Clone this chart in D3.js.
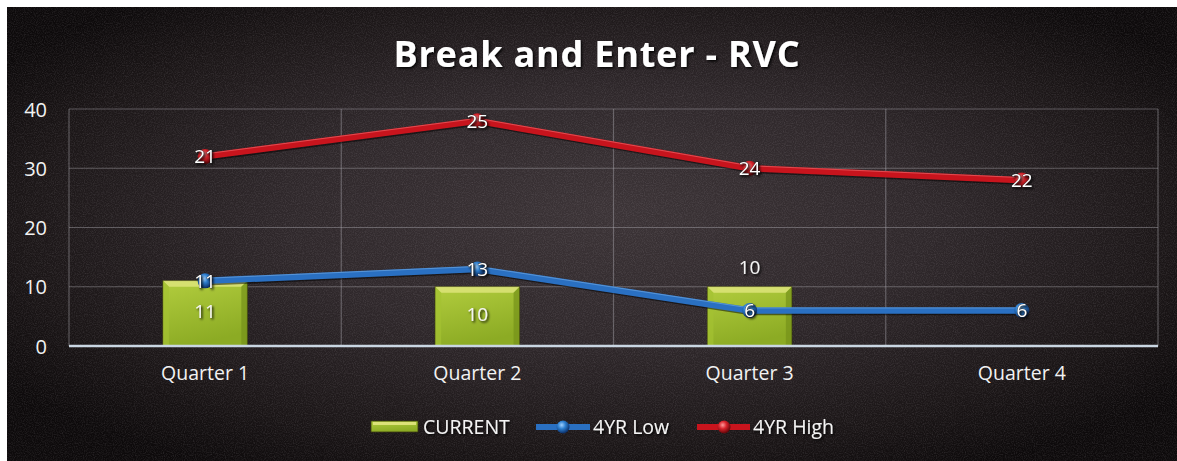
<!DOCTYPE html>
<html><head><meta charset="utf-8">
<script src="https://cdn.jsdelivr.net/npm/d3@7"></script>
<style>html,body{margin:0;padding:0;background:#fff;overflow:hidden;}svg{display:block;}</style>
</head><body>
<svg id="c" width="1177" height="461"></svg>
<script>
const categories = ["Quarter 1", "Quarter 2", "Quarter 3", "Quarter 4"];
const current = [11, 10, 10, null];
const low4yr = [11, 13, 6, 6];
const high4yr = [21, 25, 24, 22];   // stacked on top of 4YR Low
const yTicks = [0, 10, 20, 30, 40];
const title = "Break and Enter - RVC";
const legendLabels = ["CURRENT", "4YR Low", "4YR High"];

const W = 1177, H = 461;
const svg = d3.select("#c");
const defs = svg.append("defs");

const bg = defs.append("radialGradient").attr("id","bg")
  .attr("cx","50%").attr("cy","48%").attr("r","62%").attr("fx","52%").attr("fy","45%");
bg.append("stop").attr("offset","0").attr("stop-color","#3c3437");
bg.append("stop").attr("offset","0.45").attr("stop-color","#2f282b");
bg.append("stop").attr("offset","0.8").attr("stop-color","#1b1617");
bg.append("stop").attr("offset","1").attr("stop-color","#0d0a0b");

const noise = defs.append("filter").attr("id","noise").attr("x",0).attr("y",0).attr("width","100%").attr("height","100%");
noise.append("feTurbulence").attr("type","fractalNoise").attr("baseFrequency","0.9").attr("numOctaves",2).attr("seed",3).attr("result","t");
noise.append("feColorMatrix").attr("type","matrix")
  .attr("values","0 0 0 0 0.6  0 0 0 0 0.55  0 0 0 0 0.6  0 0 0 0.9 -0.35");
noise.append("feComposite").attr("in2","SourceGraphic").attr("operator","in");

const sh = defs.append("filter").attr("id","tsh").attr("x","-20%").attr("y","-20%").attr("width","140%").attr("height","140%");
sh.append("feDropShadow").attr("dx",1.5).attr("dy",1.5).attr("stdDeviation",1).attr("flood-color","#000").attr("flood-opacity",0.9);

const barG = defs.append("linearGradient").attr("id","barg").attr("x1","0").attr("y1","0").attr("x2","0.3").attr("y2","1");
barG.append("stop").attr("offset","0").attr("stop-color","#b2cd3e");
barG.append("stop").attr("offset","1").attr("stop-color","#8cab24");

function ball(id, light, mid, dark){
  const g = defs.append("radialGradient").attr("id",id).attr("cx","40%").attr("cy","35%").attr("r","65%");
  g.append("stop").attr("offset","0").attr("stop-color",light);
  g.append("stop").attr("offset","0.45").attr("stop-color",mid);
  g.append("stop").attr("offset","1").attr("stop-color",dark);
}
ball("bballs","#9fd0ff","#2d7fd0","#0c2e66");
ball("rballs","#ff9a9a","#d8232b","#5e0508");

svg.append("rect").attr("width",W).attr("height",H).attr("fill","#fff");
svg.append("rect").attr("x",7).attr("y",7).attr("width",W-7).attr("height",H-7).attr("fill","url(#bg)");
svg.append("rect").attr("x",7).attr("y",7).attr("width",W-7).attr("height",H-7).attr("fill","#fff").attr("filter","url(#noise)").attr("opacity",0.3);

const font = "'Open Sans', 'DejaVu Sans', sans-serif";

svg.append("text").attr("x",597).attr("y",67).attr("text-anchor","middle")
  .attr("font-family",font).attr("font-weight","bold").attr("font-size",36)
  .attr("fill","#fff").attr("filter","url(#tsh)").attr("letter-spacing",0.8).text(title);

const x = d3.scaleBand().domain(categories).range([69,1158]).padding(0);
const y = d3.scaleLinear().domain([0,40]).range([346,109]);

const grid = svg.append("g");
grid.selectAll("line.h").data(yTicks.filter(d=>d>0)).join("line")
  .attr("x1",69).attr("x2",1158).attr("y1",d=>y(d)).attr("y2",d=>y(d))
  .attr("stroke","#a9a6ad").attr("stroke-opacity",0.45).attr("stroke-width",1.2);
const edges = categories.map(c=>x(c)).concat([x(categories[categories.length-1])+x.bandwidth()]);
grid.selectAll("line.v").data(edges).join("line")
  .attr("x1",d=>d).attr("x2",d=>d).attr("y1",y(40)).attr("y2",y(0))
  .attr("stroke","#a9a6ad").attr("stroke-opacity",0.45).attr("stroke-width",1.2);

const yAxis = d3.axisLeft(y).tickValues(yTicks).tickSize(0).tickPadding(22);
const ya = svg.append("g").attr("transform","translate(69,0)").call(yAxis);
ya.select(".domain").remove();
ya.selectAll("text").attr("font-family",font).attr("font-size",20).attr("fill","#f2f2f2").attr("dy","0.35em");

const xAxis = d3.axisBottom(x).tickSize(0).tickPadding(17);
const xa = svg.append("g").attr("transform",`translate(0,${y(0)})`).call(xAxis);
xa.select(".domain").remove();
xa.selectAll("text").attr("font-family",font).attr("font-size",19.5).attr("fill","#f2f2f2").attr("dy","0.85em");

const bw = x.bandwidth()*0.31;
const bars = svg.append("g");
current.forEach((v,i)=>{
  if (v==null) return;
  const cx = x(categories[i]) + x.bandwidth()/2;
  const x0 = cx-bw/2, x1 = cx+bw/2, y0 = y(v), y1 = y(0), b = 6;
  const g = bars.append("g");
  g.append("rect").attr("x",x0).attr("y",y0).attr("width",bw).attr("height",y1-y0)
    .attr("fill","url(#barg)").attr("stroke","#3a3a10").attr("stroke-width",1);
  g.append("polygon").attr("points",[[x0,y0],[x1,y0],[x1-b,y0+b],[x0+b,y0+b]].map(p=>p.join(",")).join(" "))
    .attr("fill","#dde47a").attr("opacity",0.85);
  g.append("polygon").attr("points",[[x0,y0],[x0+b,y0+b],[x0+b,y1],[x0,y1]].map(p=>p.join(",")).join(" "))
    .attr("fill","#a4c232").attr("opacity",0.7);
  g.append("polygon").attr("points",[[x1,y0],[x1-b,y0+b],[x1-b,y1],[x1,y1]].map(p=>p.join(",")).join(" "))
    .attr("fill","#75921a").attr("opacity",0.7);
});

svg.append("line").attr("x1",69).attr("x2",1158).attr("y1",y(0)).attr("y2",y(0))
  .attr("stroke","#c9d6e2").attr("stroke-width",2.5);

const lowPts = low4yr.map((v,i)=>({cx:x(categories[i])+x.bandwidth()/2, v, pv:v}));
const highPts = high4yr.map((v,i)=>({cx:x(categories[i])+x.bandwidth()/2, v, pv:v+low4yr[i]}));
const line = d3.line().x(d=>d.cx).y(d=>y(d.pv));

function drawSeries(pts, color, hi, ballId){
  const g = svg.append("g");
  g.append("path").attr("d",line(pts)).attr("fill","none").attr("stroke","#000").attr("stroke-opacity",0.5)
    .attr("stroke-width",6.5).attr("transform","translate(1,1.5)");
  g.append("path").attr("d",line(pts)).attr("fill","none").attr("stroke",color).attr("stroke-width",6.5).attr("stroke-linejoin","round");
  g.append("path").attr("d",line(pts)).attr("fill","none").attr("stroke",hi).attr("stroke-width",1).attr("stroke-opacity",0.45)
    .attr("transform","translate(0,-2.5)");
  g.selectAll("circle").data(pts).join("circle").attr("cx",d=>d.cx).attr("cy",d=>y(d.pv)).attr("r",7.5)
    .attr("fill",`url(#${ballId})`);
  g.selectAll("text").data(pts).join("text").attr("x",d=>d.cx).attr("y",d=>y(d.pv)).attr("dy","0.36em")
    .attr("text-anchor","middle").attr("font-family",font).attr("font-size",19).attr("fill","#fff")
    .attr("stroke","#222").attr("stroke-width",0.6).attr("paint-order","stroke").attr("filter","url(#tsh)")
    .text(d=>d.v);
}

current.forEach((v,i)=>{
  if (v==null) return;
  const cx = x(categories[i]) + x.bandwidth()/2;
  const inside = Math.abs(low4yr[i] - v/2) > 2;
  svg.append("text").attr("x",cx).attr("y", inside ? y(v/2) - 2 : y(v) - 20).attr("dy","0.36em")
    .attr("text-anchor","middle").attr("font-family",font).attr("font-size",19).attr("fill","#f4f4f4")
    .attr("filter","url(#tsh)").text(v);
});

drawSeries(lowPts, "#2a70c2", "#8fc0f0", "bballs");
drawSeries(highPts, "#c8141d", "#ff9090", "rballs");

const lg = svg.append("g");
const ly = 427;
lg.append("rect").attr("x",371).attr("y",ly-6).attr("width",47).attr("height",11).attr("fill","url(#barg)").attr("stroke","#3a3a10").attr("stroke-width",0.8);
lg.append("rect").attr("x",373).attr("y",ly-5).attr("width",43).attr("height",3).attr("fill","#e2e680").attr("opacity",0.9);
lg.append("text").attr("x",423).attr("y",ly).attr("dy","0.36em").attr("font-family",font).attr("font-size",19.5)
  .attr("fill","#f4f4f4").attr("filter","url(#tsh)").text(legendLabels[0]);
lg.append("line").attr("x1",536).attr("x2",590).attr("y1",ly).attr("y2",ly).attr("stroke","#2a70c2").attr("stroke-width",6);
lg.append("circle").attr("cx",563).attr("cy",ly).attr("r",6.5).attr("fill","url(#bballs)");
lg.append("text").attr("x",593).attr("y",ly).attr("dy","0.36em").attr("font-family",font).attr("font-size",19.5)
  .attr("fill","#f4f4f4").attr("filter","url(#tsh)").text(legendLabels[1]);
lg.append("line").attr("x1",697).attr("x2",750).attr("y1",ly).attr("y2",ly).attr("stroke","#c8141d").attr("stroke-width",6);
lg.append("circle").attr("cx",724).attr("cy",ly).attr("r",6.5).attr("fill","url(#rballs)");
lg.append("text").attr("x",753).attr("y",ly).attr("dy","0.36em").attr("font-family",font).attr("font-size",19.5)
  .attr("fill","#f4f4f4").attr("filter","url(#tsh)").text(legendLabels[2]);
</script>
</body></html>
